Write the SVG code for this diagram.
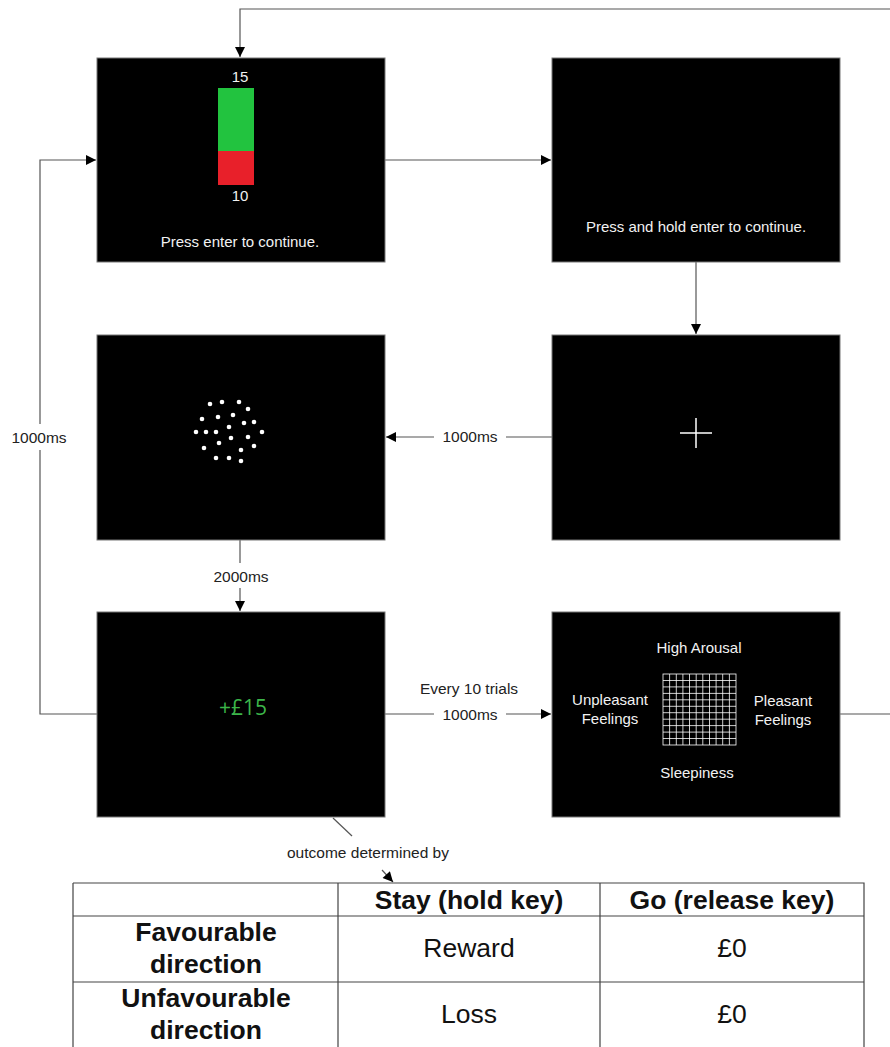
<svg xmlns="http://www.w3.org/2000/svg" width="890" height="1047" viewBox="0 0 890 1047">
<style>
.scr{fill:#000;stroke:#777;stroke-width:1}
.wt{fill:#f2f2f2;font-family:"Liberation Sans",Arial,sans-serif;font-size:15px;text-anchor:middle}
.lbl{fill:#222;font-family:"Liberation Sans",Arial,sans-serif;font-size:15.5px;text-anchor:middle}
.con{fill:none;stroke:#555;stroke-width:1.2}
.tb{fill:none;stroke:#444;stroke-width:1.2}
.th{fill:#111;font-family:"Liberation Sans",Arial,sans-serif;font-size:26.5px;font-weight:bold;text-anchor:middle}
.td{fill:#111;font-family:"Liberation Sans",Arial,sans-serif;font-size:26.5px;text-anchor:middle}
.dot{fill:#fff}
</style>
<defs>
<marker id="ah" viewBox="0 0 10 10" refX="10" refY="5" markerWidth="11" markerHeight="10" markerUnits="userSpaceOnUse" orient="auto">
<path d="M0,0 L10,5 L0,10 z" fill="#000"/>
</marker>
</defs>
<rect width="890" height="1047" fill="#fff"/>

<g id="connectors">
<path class="con" d="M890,9 H240 V57" marker-end="url(#ah)"/>
<path class="con" d="M385,160 H551" marker-end="url(#ah)"/>
<path class="con" d="M696,262 V334" marker-end="url(#ah)"/>
<path class="con" d="M552,437 H506"/>
<path class="con" d="M434,437 H386" marker-end="url(#ah)"/>
<text class="lbl" x="470" y="442">1000ms</text>
<path class="con" d="M240,540 V563"/>
<path class="con" d="M240,588 V611" marker-end="url(#ah)"/>
<text class="lbl" x="241" y="582">2000ms</text>
<path class="con" d="M385,714 H434"/>
<path class="con" d="M506,714 H551" marker-end="url(#ah)"/>
<text class="lbl" x="469" y="694">Every 10 trials</text>
<text class="lbl" x="470" y="720">1000ms</text>
<path class="con" d="M840,714 H890"/>
<path class="con" d="M97,714 H40 V450"/>
<path class="con" d="M40,424 V160 H96" marker-end="url(#ah)"/>
<text class="lbl" x="39" y="443">1000ms</text>
<path class="con" d="M333,818 L352,836"/>
<text class="lbl" x="368" y="858">outcome determined by</text>
<path class="con" d="M382,870 L393,882" marker-end="url(#ah)"/>
</g>

<g id="screen-fixation-bar">
<rect class="scr" x="97" y="58" width="288" height="204"/>
<text class="wt" x="240" y="82">15</text>
<rect x="218" y="88" width="36" height="63" fill="#22c33f"/>
<rect x="218" y="151" width="36" height="34" fill="#e8202a"/>
<text class="wt" x="240" y="201">10</text>
<text class="wt" x="240" y="247">Press enter to continue.</text>
</g>

<g id="screen-hold">
<rect class="scr" x="552" y="58" width="288" height="204"/>
<text class="wt" x="696" y="232">Press and hold enter to continue.</text>
</g>

<g id="screen-cross">
<rect class="scr" x="552" y="335" width="288" height="205"/>
<path d="M680,433 H712 M696,418 V448" stroke="#fff" stroke-width="1.5"/>
</g>

<g id="screen-dots">
<rect class="scr" x="97" y="335" width="288" height="205"/>
<circle class="dot" cx="210" cy="404" r="2.3"/>
<circle class="dot" cx="222" cy="402" r="2.3"/>
<circle class="dot" cx="239" cy="402" r="2.3"/>
<circle class="dot" cx="248" cy="409" r="2.3"/>
<circle class="dot" cx="202" cy="419" r="2.3"/>
<circle class="dot" cx="218" cy="417" r="2.3"/>
<circle class="dot" cx="233" cy="415" r="2.3"/>
<circle class="dot" cx="244" cy="423" r="2.3"/>
<circle class="dot" cx="254" cy="422" r="2.3"/>
<circle class="dot" cx="229" cy="427" r="2.3"/>
<circle class="dot" cx="196" cy="432" r="2.3"/>
<circle class="dot" cx="206" cy="432" r="2.3"/>
<circle class="dot" cx="216" cy="432" r="2.3"/>
<circle class="dot" cx="262" cy="432" r="2.3"/>
<circle class="dot" cx="248" cy="437" r="2.3"/>
<circle class="dot" cx="231" cy="438" r="2.3"/>
<circle class="dot" cx="219" cy="443" r="2.3"/>
<circle class="dot" cx="254" cy="446" r="2.3"/>
<circle class="dot" cx="204" cy="448" r="2.3"/>
<circle class="dot" cx="241" cy="450" r="2.3"/>
<circle class="dot" cx="216" cy="458" r="2.3"/>
<circle class="dot" cx="229" cy="458" r="2.3"/>
<circle class="dot" cx="241" cy="461" r="2.3"/>
</g>

<g id="screen-feedback">
<rect class="scr" x="97" y="612" width="288" height="205"/>
<text x="243" y="715" fill="#3cb54a" font-family="'Open Sans','Liberation Sans',sans-serif" font-size="21" text-anchor="middle">+£15</text>
</g>

<g id="screen-affect-grid">
<rect class="scr" x="552" y="612" width="288" height="205"/>
<text class="wt" x="699" y="653">High Arousal</text>
<text class="wt" x="610" y="705">Unpleasant</text>
<text class="wt" x="610" y="724">Feelings</text>
<text class="wt" x="783" y="706">Pleasant</text>
<text class="wt" x="783" y="725">Feelings</text>
<text class="wt" x="697" y="778">Sleepiness</text>
<g stroke="#fff" stroke-width="0.8" fill="none">
<rect x="663" y="674" width="73" height="71"/>
<path d="M669.6,674V745M676.3,674V745M682.9,674V745M689.5,674V745M696.2,674V745M702.8,674V745M709.5,674V745M716.1,674V745M722.7,674V745M729.4,674V745"/>
<path d="M663,680.5H736M663,686.9H736M663,693.4H736M663,699.8H736M663,706.3H736M663,712.7H736M663,719.2H736M663,725.6H736M663,732.1H736M663,738.5H736"/>
</g>
</g>

<g id="outcome-table">
<path class="tb" d="M73,883 H864 V1047 M73,883 V1047 M338,883 V1047 M600,883 V1047 M73,916 H864 M73,982 H864"/>
<text class="th" x="469" y="909">Stay (hold key)</text>
<text class="th" x="732" y="909">Go (release key)</text>
<text class="th" x="206" y="941">Favourable</text>
<text class="th" x="206" y="973">direction</text>
<text class="td" x="469" y="957">Reward</text>
<text class="td" x="732" y="957">£0</text>
<text class="th" x="206" y="1007">Unfavourable</text>
<text class="th" x="206" y="1039">direction</text>
<text class="td" x="469" y="1023">Loss</text>
<text class="td" x="732" y="1023">£0</text>
</g>
</svg>
